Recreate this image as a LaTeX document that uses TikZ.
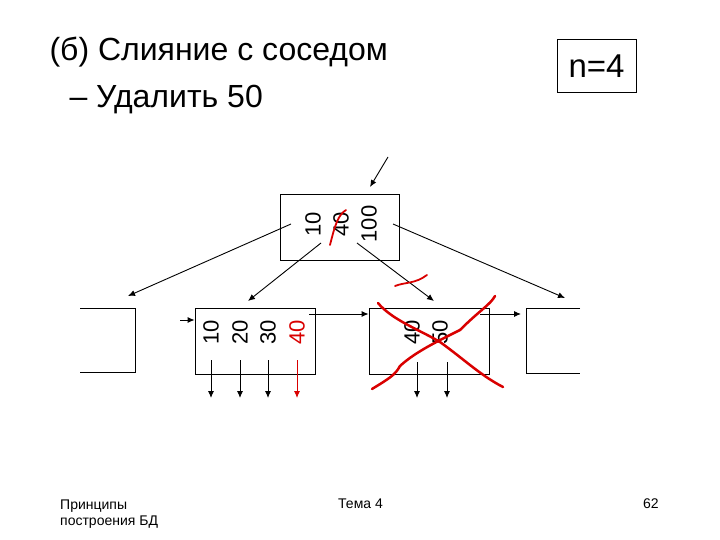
\documentclass[tikz,border=0pt]{standalone}
\usepackage{fontspec}
\setmainfont{Liberation Sans}
\usetikzlibrary{arrows.meta}
\begin{document}
\begin{tikzpicture}[x=1pt,y=-1pt,
  box/.style={draw,line width=0.8pt},
  num/.style={rotate=90,font=\fontsize{22}{22}\selectfont,inner sep=0pt},
  arr/.style={-{Latex[length=7pt,width=6pt]},line width=0.9pt},
  scr/.style={red!85!black,line width=2.5pt,line cap=round}]
\useasboundingbox (0,0) rectangle (720,540);
\node[anchor=west,font=\fontsize{32}{32}\selectfont] (t1) at (46,52) {(б) Слияние с соседом};
\node[anchor=west,font=\fontsize{32}{32}\selectfont] (t2) at (66,100) {– Удалить 50};
\node[draw,line width=1pt,minimum width=79,minimum height=53,inner sep=0pt,font=\fontsize{33}{33}\selectfont] (n) at (596.5,66.5) {n=4};
\node[box,minimum width=119,minimum height=66,inner sep=0pt] (root) at (339.5,227) {};
\node[box,minimum width=120,minimum height=66,inner sep=0pt] (lc) at (255,341) {};
\node[box,minimum width=120,minimum height=66,inner sep=0pt] (rc) at (429,341) {};
\draw[line width=0.8pt] (80,308) -- (135,308) -- (135,372) -- (80,372);
\draw[line width=0.8pt] (580,308) -- (526,308) -- (526,373) -- (580,373);
\coordinate (fl) at (128,296); \coordinate (fr) at (565,298);
\node[num] (r1) at (313,224) {10};
\node[num] (r2) at (341,224) {40};
\node[num] (r3) at (369,224) {100};
\node[num] (a1) at (211,332) {10};
\node[num] (a2) at (240,332) {20};
\node[num] (a3) at (268,332) {30};
\node[num,red!85!black] (a4) at (297,332) {40};
\node[num] (b1) at (412,332) {40};
\node[num] (b2) at (440,332) {50};
\coordinate (in) at (388,157);
\draw[arr] (in) -- (370,187);
\draw[arr] (291,224) -- (fl);
\draw[arr] (321,243) -- (248,301);
\draw[arr] (357,243) -- (434,301);
\draw[arr] (393,224) -- (fr);
\draw[arr] (180,320) -- (lc.west|-0,320);
\draw[arr] (309,314) -- (rc.west|-0,314);
\draw[arr] (480,314) -- (521,314);
\foreach \x in {211,240,268} \draw[arr] (\x,360) -- (\x,398);
\draw[arr,red!85!black] (297,360) -- (297,398);
\foreach \x in {417,447} \draw[arr] (\x,362) -- (\x,398);
% red scribbles
\draw[scr] (378,303) .. controls (392,320) and (420,330) .. (440,342) .. controls (465,360) and (480,375) .. (503,387);
\draw[scr] (372,389) .. controls (390,378) and (395,375) .. (400,366) .. controls (415,352) and (440,340) .. (460,330) .. controls (480,310) and (490,305) .. (495,296);
\draw[scr,line width=1.8pt] (330,245) .. controls (335,225) and (338,215) .. (346,210);
\draw[scr,line width=1.8pt] (395,286) .. controls (405,282) and (415,284) .. (427,275);
\node[anchor=north west,align=left,font=\fontsize{14}{16}\selectfont,inner sep=0pt] (f1) at (60,500) {Принципы\\построения БД};
\node[anchor=north west,font=\fontsize{14}{16}\selectfont,inner sep=0pt] (f2) at (338,499) {Тема 4};
\node[anchor=north west,font=\fontsize{14}{16}\selectfont,inner sep=0pt] (f3) at (643,499) {62};
\end{tikzpicture}
\end{document}
